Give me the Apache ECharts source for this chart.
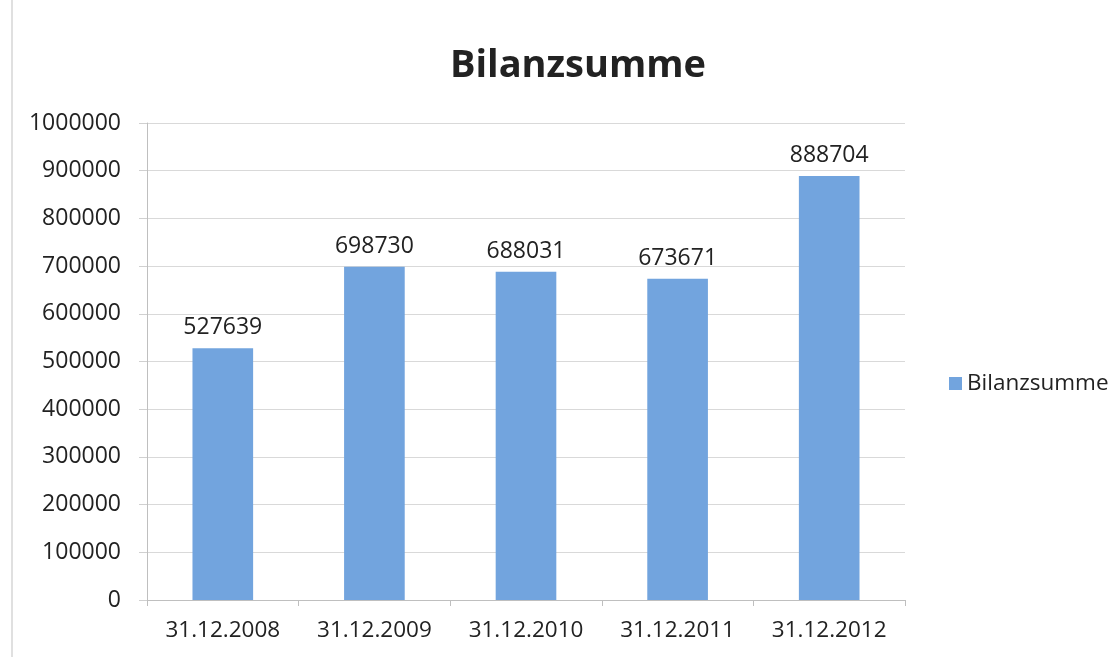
<!DOCTYPE html>
<html>
<head>
<meta charset="utf-8">
<script src="https://cdn.jsdelivr.net/npm/echarts@6/dist/echarts.min.js"></script>
<style>
  html, body { margin: 0; padding: 0; background: #fff; }
  #chart { width: 1120px; height: 657px; }
</style>
</head>
<body>
<div id="chart"></div>
<script>
  var categories = ['31.12.2008', '31.12.2009', '31.12.2010', '31.12.2011', '31.12.2012'];
  var bilanzsumme = [527639, 698730, 688031, 673671, 888704];
  var seriesName = 'Bilanzsumme';

  var chart = echarts.init(document.getElementById('chart'));
  var font = '"Open Sans", sans-serif';
  chart.setOption({
    animation: false,
    textStyle: { fontFamily: font },
    title: {
      text: 'Bilanzsumme',
      left: 573,
      top: 42,
      textAlign: 'center',
      textStyle: { fontSize: 38, fontWeight: 'bold', color: '#222', fontFamily: font }
    },
    legend: {
      data: [seriesName],
      left: 944,
      top: 367,
      icon: 'rect',
      itemWidth: 13,
      itemHeight: 13,
      itemGap: 6,
      textStyle: { fontSize: 22.5, color: '#222', fontFamily: font }
    },
    grid: {
      left: 147,
      right: 215,
      top: 123,
      bottom: 57
    },
    xAxis: {
      type: 'category',
      data: categories,
      axisLine: { lineStyle: { color: '#bfbfbf' } },
      axisTick: { show: true, length: 6, lineStyle: { color: '#bfbfbf' } },
      axisLabel: { fontSize: 22.5, color: '#222', margin: 19, interval: 0 }
    },
    yAxis: {
      type: 'value',
      min: 0,
      max: 1000000,
      interval: 100000,
      axisLine: { show: true, lineStyle: { color: '#bfbfbf' } },
      axisTick: { show: true, length: 8, lineStyle: { color: '#d0d0d0' } },
      axisLabel: {
        fontSize: 23,
        color: '#222',
        margin: 26,
        formatter: function (v) { return String(v); }
      },
      splitLine: { lineStyle: { color: '#d9d9d9' } }
    },
    series: [{
      name: seriesName,
      type: 'bar',
      data: bilanzsumme,
      barWidth: '40%',
      itemStyle: { color: '#72a4de' },
      label: {
        show: true,
        position: 'top',
        distance: 9,
        fontSize: 23,
        color: '#222'
      }
    }],
    graphic: [{
      type: 'line',
      shape: { x1: 12, y1: 0, x2: 12, y2: 657 },
      style: { stroke: '#d6d6d6', lineWidth: 1.5 }
    }]
  });
</script>
</body>
</html>
